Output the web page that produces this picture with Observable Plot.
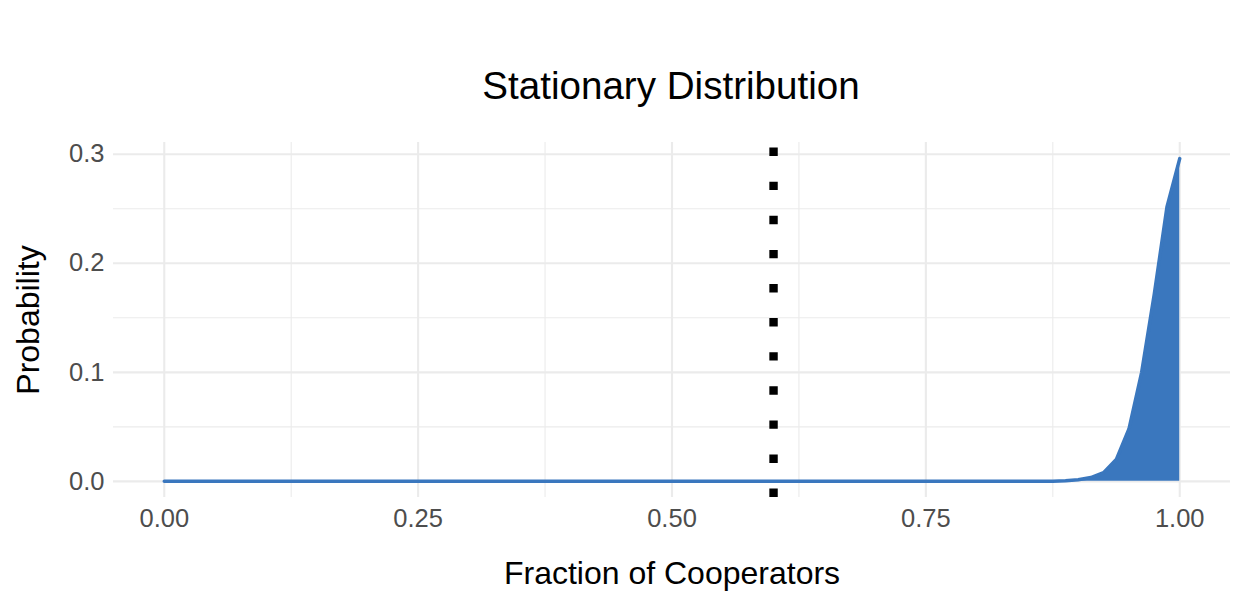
<!DOCTYPE html>
<html>
<head>
<meta charset="utf-8">
<script src="https://cdn.jsdelivr.net/npm/d3@7"></script>
<script src="https://cdn.jsdelivr.net/npm/@observablehq/plot@0.6"></script>
<style>
  html, body { margin: 0; padding: 0; background: #ffffff; }
  #wrap { width: 1240px; height: 600px; position: relative; overflow: hidden; font-family: "Liberation Sans", Arial, sans-serif; }
  #title { height: 120px; box-sizing: border-box; padding-top: 67px; padding-left: 102px; text-align: center; font-size: 38.6px; line-height: 38px; color: #000; }
  svg { display: block; }
</style>
</head>
<body>
<div id="wrap">
  <div id="title">Stationary Distribution</div>
  <div id="chart"></div>
</div>
<script>
// Data (fraction of cooperators vs probability)
const fraction    = [0, 0.85, 0.8625, 0.875, 0.8875, 0.9, 0.9125, 0.925, 0.9375, 0.95, 0.9625, 0.975, 0.9875, 1];
const probability = [0, 0.00004, 0.0001, 0.0002, 0.0006, 0.0015, 0.0035, 0.008, 0.02, 0.048, 0.1, 0.172, 0.252, 0.296];
const threshold = [0.6];
const xTicks = [0, 0.25, 0.5, 0.75, 1];
const xMinor = [0.125, 0.375, 0.625, 0.875];
const yTicks = [0, 0.1, 0.2, 0.3];
const yMinor = [0.05, 0.15, 0.25];
const xLabel = "Fraction of Cooperators";
const yLabel = "Probability";

const data = fraction.map((f, i) => ({fraction: f, probability: probability[i]}));
const xDomain = [-0.05, 1.05];
const yDomain = [-0.0148, 0.3108];
const blue = "#3A77BE";
const grid = "#EBEBEB";

const chart = Plot.plot({
  width: 1240,
  height: 480,
  marginTop: 22,
  marginBottom: 103,
  marginLeft: 113,
  marginRight: 10,
  style: {fontFamily: "Liberation Sans, Arial, sans-serif", fontSize: "25.5px", background: "#ffffff"},
  x: {domain: xDomain},
  y: {domain: yDomain},
  marks: [
    Plot.gridX(xMinor, {stroke: grid, strokeOpacity: 1, strokeWidth: 1.1}),
    Plot.gridY(yMinor, {stroke: grid, strokeOpacity: 1, strokeWidth: 1.1}),
    Plot.gridX(xTicks, {stroke: grid, strokeOpacity: 1, strokeWidth: 2.1}),
    Plot.gridY(yTicks, {stroke: grid, strokeOpacity: 1, strokeWidth: 2.1}),
    Plot.axisX(xTicks, {tickSize: 0, tickPadding: 11, tickFormat: d3.format(".2f"), fill: "#4D4D4D", label: null}),
    Plot.axisY(yTicks, {tickSize: 0, tickPadding: 9, tickFormat: d3.format(".1f"), fill: "#4D4D4D", label: null}),
    Plot.areaY(data, {x: "fraction", y: "probability", fill: blue}),
    Plot.line(data, {x: "fraction", y: "probability", stroke: blue, strokeWidth: 3.5}),
    Plot.ruleX(threshold, {y1: yDomain[0], y2: yDomain[1], stroke: "#000", strokeWidth: 8.4, strokeDasharray: "8.4 25.7"}),
    Plot.text([xLabel], {frameAnchor: "bottom", dy: 86, text: d => d, fontSize: 32, fill: "#000"}),
    Plot.text([yLabel], {frameAnchor: "left", textAnchor: "middle", dx: -85, rotate: -90, text: d => d, fontSize: 32, fill: "#000"})
  ]
});
document.getElementById("chart").appendChild(chart);
</script>
</body>
</html>
